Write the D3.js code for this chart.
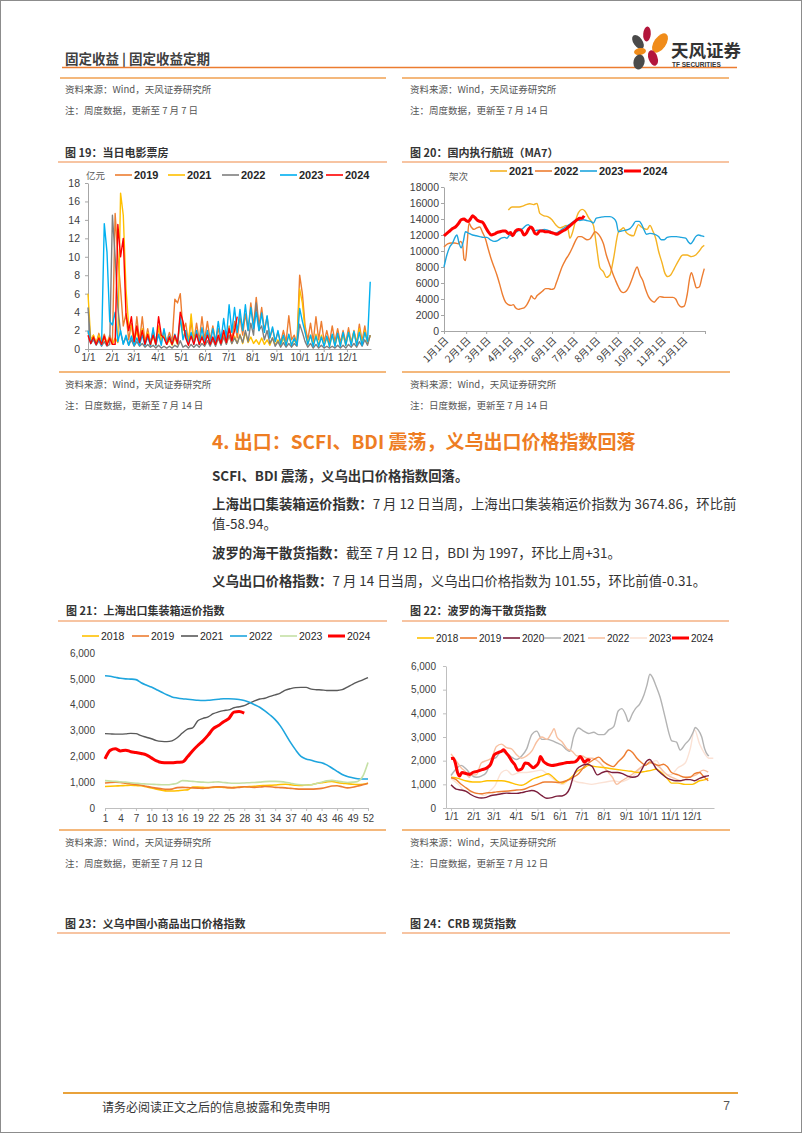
<!DOCTYPE html>
<html><head><meta charset="utf-8">
<script src="https://cdn.jsdelivr.net/npm/d3@7"></script>
<style>body{margin:0;background:#fff}svg{display:block}</style>
</head><body>
<svg id="page" width="802" height="1133"></svg>
<script>
// ---------------- DATA ----------------
// Fig 19: daily box office (亿元), one value every 3.5 days from 1/1
const boxStep = 3.5;
const box2019 = [1.8,0.8,1.5,0.6,1.7,0.6,1.6,0.6,1.5,0.6,14.7,10.0,6.5,2.5,3.8,1.0,2.8,0.7,3.5,0.8,3.5,0.7,2.2,0.6,2.0,0.7,2.3,0.8,2.0,0.8,1.8,0.8,5.4,5.0,6.0,2.0,2.8,0.8,3.0,0.8,2.8,0.9,3.5,1.0,3.0,1.0,2.5,0.9,2.2,0.8,2.0,0.8,2.5,1.0,3.0,1.2,3.5,1.5,3.8,2.0,5.0,2.5,5.6,2.5,4.5,2.0,3.5,1.2,2.2,0.8,1.8,0.7,2.0,0.8,3.6,1.0,1.5,0.6,8.0,6.0,2.5,1.0,2.8,0.8,3.5,1.0,3.0,0.8,2.0,0.7,2.5,0.8,2.2,0.7,2.0,0.7,2.3,0.7,2.0,0.6,2.7,0.8,2.5,0.6,1.5];
const box2021 = [6.0,1.0,1.5,0.6,1.5,0.5,1.2,0.5,1.3,0.5,1.2,0.7,16.9,14.5,6.5,2.5,2.5,0.7,2.0,0.5,2.2,0.5,1.8,0.4,1.5,0.4,2.5,1.0,1.5,0.5,1.0,0.4,1.2,0.5,3.2,1.5,1.5,0.5,3.8,0.8,1.8,0.5,1.5,0.5,1.8,0.5,1.2,0.5,1.3,0.5,1.5,0.6,1.5,0.6,1.4,0.6,1.6,0.6,1.8,0.7,1.3,0.6,1.0,0.5,1.2,0.5,1.0,0.4,1.2,0.4,1.0,0.4,1.2,0.4,1.5,0.4,1.0,0.5,6.5,5.0,2.0,0.5,1.5,0.4,1.6,0.4,1.5,0.4,1.2,0.3,1.5,0.4,1.5,0.4,1.6,0.4,1.8,0.5,1.9,0.5,2.2,0.5,2.0,0.6,1.5];
const box2022 = [4.5,0.6,1.0,0.4,0.9,0.3,0.8,0.3,0.5,14.5,10.0,4.5,1.8,0.6,1.3,0.4,1.0,0.3,0.8,0.3,0.6,0.2,0.5,0.2,0.4,0.1,0.4,0.1,0.3,0.1,0.3,0.1,0.4,0.2,0.9,0.2,0.4,0.1,0.5,0.2,0.5,0.2,0.6,0.3,0.9,0.3,1.0,0.3,1.2,0.4,1.3,0.5,1.5,0.6,1.2,0.6,1.5,0.7,2.0,0.8,2.8,1.5,5.0,2.0,2.5,1.0,2.0,0.6,1.2,0.3,0.8,0.2,0.7,0.2,0.6,0.2,0.6,0.3,2.7,1.8,0.8,0.2,0.6,0.1,0.5,0.1,0.4,0.1,0.3,0.1,0.3,0.1,0.4,0.1,0.4,0.1,0.5,0.2,0.6,0.2,0.8,0.3,1.0,0.4,1.5];
const box2023 = [2.0,0.6,1.2,0.5,1.0,0.4,13.6,10.5,3.0,2.6,4.0,0.8,2.0,0.5,1.5,0.4,1.4,0.4,1.2,0.4,1.5,0.4,1.3,0.4,2.3,0.4,1.6,0.4,2.2,0.5,1.4,0.5,1.6,0.6,3.5,1.0,2.0,0.5,1.8,0.5,2.0,0.5,2.3,0.6,2.0,0.5,2.2,0.7,3.0,1.0,3.3,1.2,4.8,1.8,4.5,1.8,4.3,2.0,4.8,2.0,4.5,2.2,4.0,2.0,3.9,1.8,3.6,1.2,2.4,0.8,2.0,0.5,1.5,0.4,1.6,0.4,1.2,0.4,4.4,3.0,1.8,0.5,1.5,0.3,1.4,0.3,1.3,0.3,1.4,0.3,1.6,0.3,1.7,0.3,1.8,0.4,1.8,0.4,1.9,0.4,1.8,0.4,1.8,0.8,7.3];
const box2024 = [1.5,0.6,1.3,0.5,1.2,0.5,1.4,0.4,1.2,0.5,0.5,13.5,10.0,12.0,3.8,2.0,3.5,0.8,2.5,0.7,2.0,0.5,1.6,0.5,1.5,0.5,3.5,1.5,1.2,0.5,1.3,0.5,1.5,0.6,4.0,3.0,1.2,0.4,1.4,0.5,1.6,0.5,1.3,0.5,1.5,0.5,1.3,0.5,1.5,0.6,2.0,0.7,2.2,0.9,2.0,3.5];
const boxYTicks = [0,2,4,6,8,10,12,14,16,18];
const monthDays = [0,31,59,90,120,151,181,212,243,273,304,334];
const monthLabelsSlash = ['1/1','2/1','3/1','4/1','5/1','6/1','7/1','8/1','9/1','10/1','11/1','12/1'];
const monthLabelsCN = ['1月1日','2月1日','3月1日','4月1日','5月1日','6月1日','7月1日','8月1日','9月1日','10月1日','11月1日','12月1日'];

// Fig 20: domestic flights MA7 (架次), [day of year, value]
const fl2021 = [[90,15100],[95,15500],[100,15500],[105,15500],[110,15600],[115,15800],[120,15900],[125,15800],[130,15950],[134,14700],[140,14400],[145,14300],[151,13900],[156,13300],[162,12900],[166,13000],[171,13200],[174,12500],[176,11600],[180,12400],[184,13800],[188,14800],[193,15200],[197,15000],[202,14200],[209,13200],[213,10800],[218,7900],[223,7400],[227,6700],[232,7000],[237,9000],[244,12400],[248,12700],[251,12900],[255,12300],[260,12000],[265,11900],[269,12800],[272,13300],[276,13000],[280,12800],[284,12700],[288,13200],[292,12500],[296,11600],[300,10000],[305,8500],[309,7200],[313,6800],[317,7000],[322,7800],[328,8800],[334,9500],[340,9500],[346,9300],[352,9500],[357,10000],[361,10500],[364,10700]];
const fl2022 = [[0,10500],[5,10900],[10,11000],[15,11000],[20,10900],[23,11200],[26,10800],[28,9000],[30,8800],[32,10500],[35,13500],[38,13000],[42,12700],[46,12900],[50,13000],[54,12300],[58,11500],[62,10200],[66,9000],[70,8000],[74,7000],[78,5800],[82,4500],[86,3600],[90,3300],[94,3200],[97,3300],[100,2900],[104,2700],[108,2800],[112,2900],[116,3300],[120,4000],[122,4400],[125,4100],[127,4000],[130,4400],[134,4700],[138,5000],[142,5300],[146,5300],[150,5200],[154,5300],[157,6000],[161,7000],[165,8000],[170,8900],[175,9600],[180,10500],[184,11300],[188,11800],[192,11800],[196,11600],[200,11400],[204,11500],[208,12000],[211,12400],[215,12200],[219,11700],[223,10900],[227,9500],[232,8200],[236,7200],[240,6300],[244,5500],[248,4900],[251,4800],[255,5000],[259,5600],[263,6500],[267,7500],[270,8000],[274,7000],[278,6300],[282,5200],[286,4300],[290,3800],[294,3600],[298,4000],[302,4300],[308,4200],[314,4200],[320,4200],[324,4000],[328,3300],[332,3000],[336,3100],[340,4500],[344,6800],[346,7300],[350,6200],[353,5400],[357,5500],[361,6800],[364,7800]];
const fl2023 = [[0,8000],[4,9500],[8,10500],[12,11000],[16,11800],[18,12000],[21,11000],[24,10400],[27,11200],[30,12400],[35,12200],[40,12000],[45,11900],[50,11800],[55,11700],[60,11700],[65,11400],[70,11200],[75,11300],[80,11600],[85,11700],[88,11600],[92,12000],[96,11900],[100,12300],[105,12600],[110,12800],[115,13200],[118,13300],[122,12800],[126,12500],[130,12600],[135,12600],[140,12700],[145,12600],[150,12400],[155,12200],[160,12400],[165,12700],[170,13000],[175,13300],[180,13600],[185,13900],[190,13800],[195,13900],[200,13800],[205,13700],[209,13500],[213,14100],[218,14200],[225,14300],[232,14300],[237,14100],[241,13600],[244,12400],[248,12500],[254,12600],[260,12800],[264,13200],[268,13700],[273,13700],[276,13400],[280,12600],[283,12100],[288,12200],[294,12100],[300,11800],[304,11400],[308,11400],[312,11700],[318,11800],[325,11800],[332,11700],[338,11600],[342,11100],[345,10900],[348,11200],[352,11800],[356,12000],[360,11900],[364,11800]];
const fl2024 = [[0,11900],[4,12200],[8,12500],[12,12800],[16,13000],[20,13400],[24,13900],[28,14000],[31,13800],[34,13700],[37,14000],[40,14400],[43,14200],[46,13900],[50,13700],[54,13600],[58,13000],[62,12400],[66,12000],[70,12100],[74,12300],[78,12400],[82,12500],[86,12500],[90,12200],[93,12300],[96,11900],[100,12500],[104,12700],[108,12600],[112,12000],[115,12200],[118,12700],[121,13000],[124,12800],[127,12200],[130,12100],[134,12500],[138,12500],[142,12400],[146,12400],[150,12300],[154,12200],[158,12100],[162,12300],[166,12500],[170,12700],[174,13000],[178,13300],[182,13600],[186,13900],[190,14100],[193,14100],[196,14400]];
const flYTicks = [0,2000,4000,6000,8000,10000,12000,14000,16000,18000];

// Fig 21: SCFI weekly
const weekTicks = [1,4,7,10,13,16,19,22,25,28,31,34,37,40,43,46,49,52];
const scfi2018 = [830,840,850,860,870,880,870,860,820,780,730,690,660,660,670,690,700,810,810,800,790,800,810,800,790,800,810,820,830,840,860,870,880,890,910,920,900,880,870,890,900,950,980,1010,1030,990,960,940,920,910,920,960];
const scfi2019 = [970,990,1000,990,960,930,910,880,840,800,770,740,720,730,790,800,790,780,770,760,780,810,820,810,790,780,800,820,810,800,810,830,820,800,790,780,760,740,730,730,730,740,760,800,850,860,820,780,800,850,900,960];
const scfi2021 = [2880,2870,2860,2860,2870,2890,2880,2800,2740,2680,2610,2580,2570,2600,2720,2900,3050,3100,3380,3470,3530,3650,3720,3770,3800,3880,3920,3960,4060,4150,4220,4250,4320,4380,4450,4560,4620,4660,4670,4670,4600,4580,4570,4550,4550,4550,4580,4680,4790,4880,4960,5050];
const scfi2022 = [5120,5100,5060,5020,5000,4990,4970,4850,4760,4680,4580,4480,4380,4300,4260,4230,4210,4190,4170,4160,4170,4190,4210,4230,4230,4220,4200,4160,4090,4000,3900,3760,3600,3420,3180,2860,2530,2240,2000,1900,1850,1790,1750,1670,1550,1420,1300,1220,1170,1130,1120,1120];
const scfi2023 = [1060,1040,1030,1010,1000,980,960,940,930,920,910,900,900,920,960,1060,1050,1030,1010,1000,990,1000,1010,990,970,960,960,970,980,990,1000,1020,1030,1030,1020,1000,960,920,900,890,900,950,1000,1050,1070,1040,1010,990,1000,1030,1230,1760];
const scfi2024 = [1897,2230,2290,2210,2240,2180,2150,2110,2060,1940,1820,1760,1750,1750,1770,1780,1980,2220,2420,2600,2820,3070,3190,3340,3460,3710,3734,3675];
const thousandTicks = [0,1000,2000,3000,4000,5000,6000];

// Fig 22: BDI daily, [day of year, value]
const bdi2018 = [[0,1300],[10,1250],[20,1150],[30,1100],[40,1100],[50,1150],[60,1150],[70,1150],[80,1100],[90,1000],[98,960],[105,1050],[112,1200],[121,1300],[130,1400],[135,1450],[140,1350],[147,1150],[154,1050],[160,1150],[167,1300],[175,1550],[185,1700],[191,1800],[200,1750],[214,1700],[225,1650],[237,1600],[250,1550],[260,1500],[270,1550],[279,1600],[285,1650],[290,1550],[300,1250],[306,1050],[315,1050],[325,1000],[335,1000],[345,1150],[353,1200],[357,1250]];
const bdi2019 = [[0,1280],[7,1200],[14,1000],[21,850],[28,700],[35,620],[42,600],[49,640],[56,650],[63,680],[70,700],[80,720],[91,760],[100,780],[110,900],[120,1000],[130,1100],[140,1100],[150,1080],[160,1150],[170,1300],[177,1450],[185,1750],[191,1900],[198,2050],[205,2150],[212,1950],[220,1800],[225,1750],[232,1950],[240,2200],[246,2450],[252,2350],[258,2100],[265,1900],[270,1800],[276,1950],[282,1850],[288,1800],[295,1850],[300,1750],[306,1500],[315,1400],[325,1300],[332,1300],[338,1450],[345,1500],[350,1350],[357,1150]];
const bdi2020 = [[0,980],[7,800],[14,760],[21,700],[28,560],[35,460],[42,420],[49,450],[56,530],[63,560],[70,600],[77,630],[84,620],[91,620],[98,650],[105,700],[112,740],[119,680],[126,520],[133,410],[140,440],[147,500],[154,510],[160,600],[165,850],[170,1350],[175,1650],[182,1800],[189,1850],[196,1750],[203,1400],[210,1500],[217,1550],[224,1500],[231,1500],[238,1450],[245,1350],[252,1300],[259,1350],[266,1700],[272,2000],[276,2050],[280,1900],[285,1650],[292,1450],[298,1300],[305,1200],[312,1150],[318,1150],[325,1200],[332,1200],[338,1150],[345,1250],[352,1330],[358,1366]];
const bdi2021 = [[0,1374],[7,1650],[14,1800],[21,1650],[28,1400],[35,1300],[42,1350],[49,1500],[56,2000],[63,2150],[70,2400],[77,2300],[84,2150],[91,2050],[98,2200],[105,2500],[112,3100],[119,3250],[126,2900],[133,2900],[140,2850],[147,2750],[154,2650],[161,2450],[165,2400],[170,3000],[177,3380],[184,3250],[191,3150],[198,3200],[205,3100],[212,3100],[219,3300],[226,3450],[232,4100],[237,4200],[243,3900],[246,3650],[252,4000],[256,4200],[262,4400],[268,4800],[272,5200],[276,5650],[280,5500],[284,5200],[290,4700],[297,3850],[303,3100],[306,2850],[313,2780],[318,2450],[325,2700],[331,2900],[336,3200],[339,3400],[343,3300],[348,3000],[352,2500],[356,2250],[358,2200]];
const bdi2022 = [[0,2285],[7,2000],[14,1700],[21,1500],[25,1300],[28,1400],[35,1400],[42,1900],[49,2000],[56,2100],[63,2600],[70,2700],[77,2550],[84,2500],[91,2250],[98,2100],[105,2200],[112,2400],[119,2800],[126,3000],[133,2900],[140,3200],[143,3350],[147,3000],[154,2800],[161,2500],[168,2400],[175,2200],[182,2200],[189,2100],[196,2100],[203,2000],[210,1800],[217,1550],[224,1300],[230,1000],[237,1150],[245,1300],[255,1500],[265,1750],[272,1850],[280,1900],[290,1700],[300,1400],[310,1250],[320,1150],[330,1300],[340,1400],[350,1600],[357,1515]];
const bdi2023 = [[0,1250],[10,1000],[20,700],[30,670],[40,600],[46,530],[55,750],[60,900],[70,1500],[77,1600],[85,1400],[95,1500],[105,1500],[115,1550],[125,1600],[135,1400],[145,1150],[155,1000],[165,1200],[175,1100],[185,1050],[195,1000],[205,1050],[215,1100],[225,1150],[235,1100],[245,1200],[255,1400],[265,1750],[275,1900],[285,2000],[295,1500],[305,1400],[315,1700],[325,1900],[332,2500],[338,3300],[345,2700],[352,2300],[358,2100],[364,2100]];
const bdi2024 = [[0,2090],[3,2100],[6,1900],[9,1500],[12,1350],[15,1500],[18,1480],[22,1450],[26,1420],[30,1500],[36,1550],[43,1620],[50,1700],[55,1850],[60,2250],[66,2350],[70,2400],[73,2460],[76,2350],[80,2200],[84,2000],[88,1850],[93,1600],[98,1650],[103,1900],[107,1880],[110,1800],[114,1700],[118,1780],[122,1950],[124,2180],[128,1980],[132,1880],[136,1820],[140,1800],[147,1830],[155,1880],[161,1920],[167,1930],[172,1950],[176,2050],[179,2180],[182,2080],[185,1930],[188,2000],[190,2040],[193,1997]];

// ---------------- DRAWING ----------------
const svg = d3.select('#page');
const CJK = '"Noto Sans CJK SC", "Noto Sans", sans-serif';
const ARIAL = '"Liberation Sans", Arial, sans-serif';

function txt(x, y, s, o = {}) {
  return svg.append('text').attr('x', x).attr('y', y).text(s)
    .attr('font-family', o.ff || CJK).attr('font-size', o.fs || 10)
    .attr('fill', o.fill || '#333').attr('font-weight', o.fw || 'normal')
    .attr('text-anchor', o.anchor || 'start').attr('dominant-baseline', 'central');
}
function hline(x1, x2, y, color, w) {
  svg.append('line').attr('x1', x1).attr('x2', x2).attr('y1', y).attr('y2', y)
    .attr('stroke', color).attr('stroke-width', w);
}
function para(x, y, bold, rest) {
  const t = svg.append('text').attr('x', x).attr('y', y).attr('font-family', CJK)
    .attr('font-size', 13.4).attr('fill', '#333').attr('dominant-baseline', 'central');
  if (bold) t.append('tspan').attr('font-weight', 'bold').text(bold);
  t.append('tspan').text(rest);
}
function styleAxis(g, color, fs) {
  g.attr('font-family', ARIAL).attr('font-size', fs || 10);
  g.selectAll('path.domain').attr('stroke', color);
  g.selectAll('.tick line').attr('stroke', color);
  g.selectAll('.tick text').attr('fill', '#404040');
}
function legend(items, y, fs, fw) {
  items.forEach(it => {
    hline(it.x, it.x + 17, y, it.color, it.w || 1.6);
    txt(it.x + 19, y, it.label, {ff: ARIAL, fs: fs, fw: fw, fill: '#262626'});
  });
}

// page border
svg.append('rect').attr('x', 0.5).attr('y', 0.5).attr('width', 801).attr('height', 1132)
  .attr('fill', 'none').attr('stroke', '#8c8c8c').attr('stroke-width', 1);

// header
txt(65, 58, '固定收益 | 固定收益定期', {fs: 13.5, fw: 'bold', fill: '#404040'});
hline(62, 737, 67.5, '#EC7C30', 1.6);
// logo
const petals = [
  {cx: 647, cy: 34, rx: 3.8, ry: 7.5, r: 5, c: '#B3163C'},
  {cx: 660, cy: 43, rx: 6, ry: 11, r: 35, c: '#F08C1A'},
  {cx: 638, cy: 42, rx: 4.5, ry: 8, r: -35, c: '#4A4A4A'},
  {cx: 640, cy: 51.5, rx: 6, ry: 3.5, r: -10, c: '#F08C1A'},
  {cx: 653, cy: 58, rx: 4.5, ry: 8, r: -20, c: '#B3163C'},
  {cx: 639, cy: 62, rx: 5.5, ry: 7.5, r: 15, c: '#4A4A4A'}
];
petals.forEach(p => svg.append('ellipse').attr('cx', 0).attr('cy', 0).attr('rx', p.rx).attr('ry', p.ry)
  .attr('transform', `translate(${p.cx},${p.cy}) rotate(${p.r})`).attr('fill', p.c));
txt(671, 49, '天风证券', {fs: 17.5, fw: 'bold', fill: '#333'});
txt(672, 64, 'TF SECURITIES', {ff: ARIAL, fs: 6.5, fw: 'bold', fill: '#333'});

// top notes (continuation of figures above)
hline(60, 386, 78, '#F0A050', 1.5);
hline(402, 729, 78, '#F0A050', 1.5);
txt(65, 89, '资料来源：Wind，天风证券研究所', {fs: 9.5, fill: '#555'});
txt(65, 110, '注：周度数据，更新至 7 月 7 日', {fs: 9.5, fill: '#555'});
txt(410, 89, '资料来源：Wind，天风证券研究所', {fs: 9.5, fill: '#555'});
txt(410, 110, '注：周度数据，更新至 7 月 14 日', {fs: 9.5, fill: '#555'});

// ---------- Figure 19 ----------
txt(65, 152, '图 19：当日电影票房', {fs: 11, fw: 'bold', fill: '#333'});
hline(58, 387, 162, '#F4B183', 1.5);
{
  const x = d3.scaleLinear().domain([0, 365]).range([88, 371]);
  const y = d3.scaleLinear().domain([0, 18]).range([349, 183]);
  const gy = svg.append('g').attr('transform', 'translate(88,0)')
    .call(d3.axisLeft(y).tickValues(boxYTicks).tickSize(3).tickPadding(5).tickSizeOuter(0));
  styleAxis(gy, '#A6A6A6', 10.5);
  const gx = svg.append('g').attr('transform', 'translate(0,349)')
    .call(d3.axisBottom(x).tickValues(monthDays).tickFormat((d, i) => monthLabelsSlash[i]).tickSize(3).tickPadding(2).tickSizeOuter(0));
  styleAxis(gx, '#A6A6A6', 10);
  const line = d3.line().x((d, i) => x(i * boxStep)).y(d => y(d));
  [[box2019, '#ED7D31'], [box2021, '#FFC000'], [box2022, '#7F7F7F'], [box2023, '#00B0F0'], [box2024, '#FF0000']]
    .forEach(([s, c]) => svg.append('path').datum(s).attr('d', line).attr('fill', 'none')
      .attr('stroke', c).attr('stroke-width', 1.4).attr('stroke-linejoin', 'round'));
  txt(86, 175, '亿元', {fs: 9.5, fill: '#595959'});
  legend([
    {x: 115, color: '#ED7D31', label: '2019'}, {x: 168, color: '#FFC000', label: '2021'},
    {x: 222, color: '#7F7F7F', label: '2022'}, {x: 280, color: '#00B0F0', label: '2023'},
    {x: 326, color: '#FF0000', label: '2024'}], 175, 11, 'bold');
}
hline(59, 386, 372, '#F0A050', 1.5);
txt(65, 384, '资料来源：Wind，天风证券研究所', {fs: 9.5, fill: '#555'});
txt(65, 405, '注：日度数据，更新至 7 月 14 日', {fs: 9.5, fill: '#555'});

// ---------- Figure 20 ----------
txt(410, 152, '图 20：国内执行航班（MA7）', {fs: 11, fw: 'bold', fill: '#333'});
hline(402, 729, 162, '#F4B183', 1.5);
{
  const x = d3.scaleLinear().domain([0, 365]).range([444, 705]);
  const y = d3.scaleLinear().domain([0, 18000]).range([331, 187]);
  const gy = svg.append('g').attr('transform', 'translate(444,0)')
    .call(d3.axisLeft(y).tickValues(flYTicks).tickFormat(d3.format('d')).tickSize(3).tickPadding(2).tickSizeOuter(0));
  styleAxis(gy, '#A6A6A6', 10.5);
  const gx = svg.append('g').attr('transform', 'translate(0,331)')
    .call(d3.axisBottom(x).tickValues(monthDays.concat([365])).tickFormat('').tickSize(3).tickSizeOuter(0));
  styleAxis(gx, '#A6A6A6', 10);
  monthDays.forEach((d, i) => {
    svg.append('text').attr('transform', `translate(${x(d) + 2},${338}) rotate(-45)`)
      .attr('text-anchor', 'end').attr('dominant-baseline', 'central')
      .attr('font-family', CJK).attr('font-size', 10).attr('fill', '#404040').text(monthLabelsCN[i]);
  });
  const line = d3.line().x(d => x(d[0])).y(d => y(d[1])).curve(d3.curveMonotoneX);
  [[fl2021, '#F5B323', 1.4], [fl2022, '#ED7D31', 1.4], [fl2023, '#1EA5DE', 1.4], [fl2024, '#FF0000', 3]]
    .forEach(([s, c, w]) => svg.append('path').datum(s).attr('d', line).attr('fill', 'none')
      .attr('stroke', c).attr('stroke-width', w).attr('stroke-linejoin', 'round'));
  txt(449, 176, '架次', {fs: 9.5, fill: '#595959'});
  legend([
    {x: 490, color: '#F5B323', label: '2021'}, {x: 535, color: '#ED7D31', label: '2022'},
    {x: 580, color: '#1EA5DE', label: '2023'}, {x: 624, color: '#FF0000', label: '2024', w: 3}], 171, 11, 'bold');
}
hline(402, 730, 372, '#F0A050', 1.5);
txt(410, 384, '资料来源：Wind，天风证券研究所', {fs: 9.5, fill: '#555'});
txt(410, 405, '注：日度数据，更新至 7 月 14 日', {fs: 9.5, fill: '#555'});

// ---------- Section text ----------
txt(212, 440, '4. 出口：SCFI、BDI 震荡，义乌出口价格指数回落', {fs: 19, fw: 'bold', fill: '#EE7D23'});
para(212, 475, 'SCFI、BDI 震荡，义乌出口价格指数回落。', '');
para(212, 503, '上海出口集装箱运价指数：', '7 月 12 日当周，上海出口集装箱运价指数为 3674.86，环比前');
para(212, 523, '', '值-58.94。');
para(212, 552, '波罗的海干散货指数：', '截至 7 月 12 日，BDI 为 1997，环比上周+31。');
para(212, 580, '义乌出口价格指数：', '7 月 14 日当周，义乌出口价格指数为 101.55，环比前值-0.31。');

// ---------- Figure 21 ----------
txt(66, 610, '图 21：上海出口集装箱运价指数', {fs: 11, fw: 'bold', fill: '#333'});
hline(58, 387, 621, '#F4B183', 1.5);
{
  const x = d3.scaleLinear().domain([1, 52]).range([105, 368]);
  const y = d3.scaleLinear().domain([0, 6000]).range([808, 653]);
  const gy = svg.append('g').attr('transform', 'translate(101,0)')
    .call(d3.axisLeft(y).tickValues(thousandTicks).tickFormat(d3.format(',')).tickSize(0).tickPadding(6));
  styleAxis(gy, 'none', 10);
  gy.select('path.domain').remove();
  const gx = svg.append('g').attr('transform', 'translate(0,808)')
    .call(d3.axisBottom(x).tickValues(weekTicks).tickSize(3).tickPadding(4).tickSizeOuter(0));
  styleAxis(gx, '#BFBFBF', 10);
  const line = d3.line().x((d, i) => x(i + 1)).y(d => y(d)).curve(d3.curveMonotoneX);
  [[scfi2018, '#FFC000', 1.6], [scfi2019, '#ED7D31', 1.6], [scfi2021, '#595959', 1.4], [scfi2022, '#1EA5DE', 1.6],
   [scfi2023, '#C5E0A5', 1.6], [scfi2024, '#FF0000', 3]]
    .forEach(([s, c, w]) => svg.append('path').datum(s).attr('d', line).attr('fill', 'none')
      .attr('stroke', c).attr('stroke-width', w).attr('stroke-linejoin', 'round'));
  legend([
    {x: 82, color: '#FFC000', label: '2018'}, {x: 132, color: '#ED7D31', label: '2019'},
    {x: 181, color: '#595959', label: '2021'}, {x: 230, color: '#1EA5DE', label: '2022'},
    {x: 280, color: '#C5E0A5', label: '2023'}, {x: 328, color: '#FF0000', label: '2024', w: 3}], 636, 10.5, 'normal');
}
hline(59, 386, 830, '#F0A050', 1.5);
txt(65, 842, '资料来源：Wind，天风证券研究所', {fs: 9.5, fill: '#555'});
txt(65, 863, '注：周度数据，更新至 7 月 12 日', {fs: 9.5, fill: '#555'});

// ---------- Figure 22 ----------
txt(410, 610, '图 22：波罗的海干散货指数', {fs: 11, fw: 'bold', fill: '#333'});
hline(402, 729, 621, '#F4B183', 1.5);
{
  const x = d3.scaleLinear().domain([-7, 365]).range([446, 714]);
  const y = d3.scaleLinear().domain([0, 6000]).range([808, 666]);
  const gy = svg.append('g').attr('transform', 'translate(446,0)')
    .call(d3.axisLeft(y).tickValues(thousandTicks).tickFormat(d3.format(',')).tickSize(3).tickPadding(7).tickSizeOuter(0));
  styleAxis(gy, '#BFBFBF', 10);
  const gx = svg.append('g').attr('transform', 'translate(0,808)')
    .call(d3.axisBottom(x).tickValues(monthDays).tickFormat((d, i) => monthLabelsSlash[i]).tickSize(3).tickPadding(2).tickSizeOuter(0));
  styleAxis(gx, '#BFBFBF', 10);
  const line = d3.line().x(d => x(d[0])).y(d => y(d[1])).curve(d3.curveMonotoneX);
  [[bdi2023, '#FBE2D5', 1.4], [bdi2021, '#B3B3B3', 1.4], [bdi2022, '#F8C0A0', 1.4], [bdi2018, '#FFC000', 1.4],
   [bdi2019, '#ED7D31', 1.4], [bdi2020, '#7B1E3C', 1.4], [bdi2024, '#FF0000', 3]]
    .forEach(([s, c, w]) => svg.append('path').datum(s).attr('d', line).attr('fill', 'none')
      .attr('stroke', c).attr('stroke-width', w).attr('stroke-linejoin', 'round'));
  legend([
    {x: 417, color: '#FFC000', label: '2018'}, {x: 460, color: '#ED7D31', label: '2019'},
    {x: 503, color: '#7B1E3C', label: '2020'}, {x: 544, color: '#B3B3B3', label: '2021'},
    {x: 588, color: '#F8C0A0', label: '2022'}, {x: 630, color: '#FBE2D5', label: '2023'},
    {x: 672, color: '#FF0000', label: '2024', w: 3}], 638, 10, 'normal');
}
hline(402, 730, 830, '#F0A050', 1.5);
txt(410, 842, '资料来源：Wind，天风证券研究所', {fs: 9.5, fill: '#555'});
txt(410, 863, '注：日度数据，更新至 7 月 12 日', {fs: 9.5, fill: '#555'});

// ---------- Figures 23/24 titles ----------
txt(65, 923, '图 23：义乌中国小商品出口价格指数', {fs: 11, fw: 'bold', fill: '#333'});
hline(57, 386, 933, '#F4B183', 1.5);
txt(410, 923, '图 24：CRB 现货指数', {fs: 11, fw: 'bold', fill: '#333'});
hline(402, 730, 933, '#F4B183', 1.5);

// footer
hline(63, 738, 1093, '#E9A23B', 2);
txt(102, 1106, '请务必阅读正文之后的信息披露和免责申明', {fs: 12, fill: '#333'});
txt(730, 1106, '7', {ff: ARIAL, fs: 12, fill: '#555', anchor: 'end'});
</script>
</body></html>
